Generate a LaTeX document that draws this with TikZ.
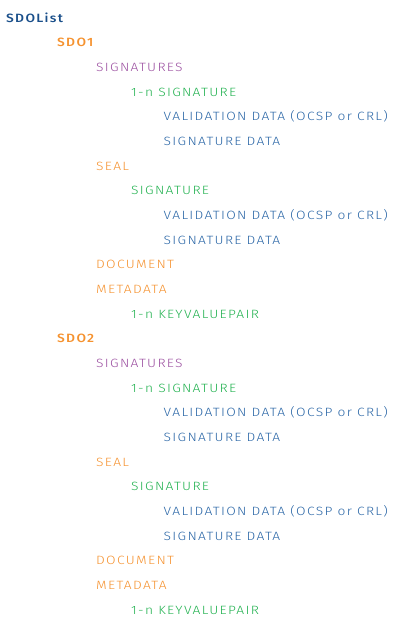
\documentclass[tikz,border=0pt]{standalone}
\usepackage{fontspec}
\IfFontExistsTF{Fira Sans Light}
  {\setmainfont{Fira Sans Light}[BoldFont={Fira Sans Medium}, FakeStretch=1.15, LetterSpace=11]}
  {\setmainfont{Fira Sans}[FakeStretch=1.12, LetterSpace=11]}
\usetikzlibrary{positioning}

\definecolor{listblue}{HTML}{1A4F8A}
\definecolor{sdoorange}{HTML}{F5922F}
\definecolor{sigpurple}{HTML}{9B4FA0}
\definecolor{onegreen}{HTML}{21B14F}
\definecolor{leafblue}{HTML}{2A66A6}

\tikzset{
  entry/.style={anchor=base west, inner sep=0pt, font=\fontsize{12}{14}\selectfont},
  root/.style={entry, text=listblue, font=\fontsize{12}{14}\selectfont\bfseries},
  sdo/.style={entry, text=sdoorange, font=\fontsize{12}{14}\selectfont\bfseries},
  sig/.style={entry, text=sigpurple},
  part/.style={entry, text=sdoorange},
  one/.style={entry, text=onegreen},
  leaf/.style={entry, text=leafblue}
}

\begin{document}
\begin{tikzpicture}[x=1pt, y=-1pt]
\useasboundingbox (0,0) rectangle (400,633);
\def\dy{24.667}
% list root
\node[root] (sdolist) at (6,22) {SDOList};
% two SDO blocks of twelve rows each
\foreach \k in {1,2} {
  \pgfmathsetmacro{\yo}{22+(12*(\k-1)+1)*\dy}
  \foreach \r/\x/\st/\txt in {0/57/sdo/SDO\k, 1/96/sig/SIGNATURES, 2/131/one/1-n SIGNATURE,
      3/163.5/leaf/{VALIDATION DATA (OCSP or CRL)}, 4/163.5/leaf/SIGNATURE DATA,
      5/96/part/SEAL, 6/131/one/SIGNATURE,
      7/163.5/leaf/{VALIDATION DATA (OCSP or CRL)}, 8/163.5/leaf/SIGNATURE DATA,
      9/96/part/DOCUMENT, 10/96/part/METADATA, 11/131/one/1-n KEYVALUEPAIR} {
    \node[\st] (s\k-\r) at (\x,\yo+\r*\dy) {\txt};
  }
}
\end{tikzpicture}
\end{document}
